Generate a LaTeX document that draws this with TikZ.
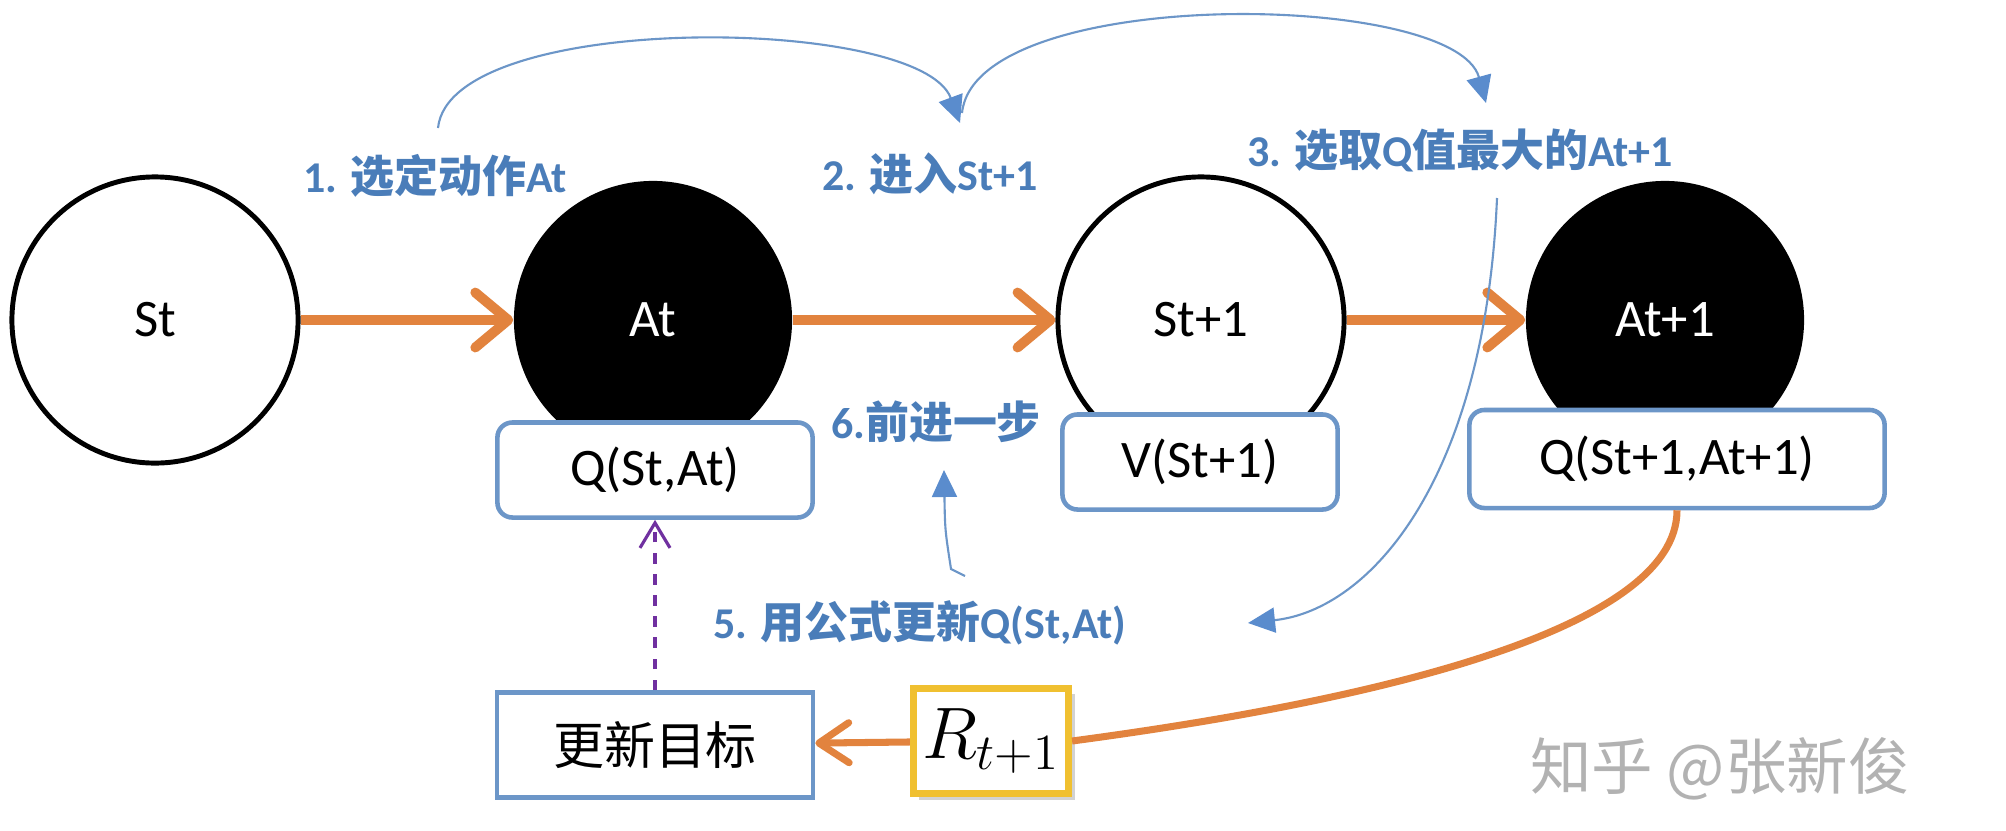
\documentclass[tikz,border=0pt]{standalone}
\usepackage[no-math]{fontspec}
\setmainfont{Carlito}
\newfontfamily\cjk{Noto Sans CJK SC}
\usetikzlibrary{arrows.meta,shadows}
\definecolor{qorange}{RGB}{226,131,62}
\definecolor{qblue}{RGB}{108,150,200}
\definecolor{qlabel}{RGB}{74,125,185}
\definecolor{qarrow}{RGB}{90,140,205}
\definecolor{qpurple}{RGB}{112,48,160}
\definecolor{qyellow}{RGB}{240,192,48}
\begin{document}
\begin{tikzpicture}[x=0.01cm, y=0.01cm,
    state/.style={draw, circle, line width=1.4pt, fill=white, minimum size=2.86cm, font=\fontsize{15}{18}\selectfont},
    action/.style={circle, fill=black, text=white, minimum size=2.78cm, font=\fontsize{15}{18}\selectfont},
    value box/.style={draw=qblue, line width=1.3pt, rounded corners=0.15cm, fill=white, minimum width=#1, minimum height=0.95cm, font=\fontsize{15}{18}\selectfont},
    target box/.style={draw=qblue, line width=1.3pt, fill=white, minimum width=3.16cm, minimum height=1.05cm, font=\fontsize{14.5}{17}\selectfont},
    reward box/.style={draw=qyellow, line width=2pt, fill=white, minimum width=1.55cm, minimum height=1.05cm, inner sep=1pt, font=\fontsize{21}{24}\selectfont,
        drop shadow={shadow xshift=0.06cm, shadow yshift=-0.06cm, opacity=0.35}},
    flow/.style={draw=qorange, line width=2.8pt, -{Straight Barb[length=0.33cm, width=0.55cm, round]}},
    reward flow/.style={draw=qorange, line width=2pt},
    update/.style={draw=qpurple, line width=0.9pt, dashed, -{Straight Barb[length=0.25cm, width=0.3cm]}},
    hint/.style={draw=qblue, line width=0.6pt, -{Triangle[length=0.27cm, width=0.25cm, color=qarrow]}},
    note/.style={text=qlabel, font=\fontsize{12.5}{15}\selectfont\bfseries},
    watermark/.style={text=black!30, font=\fontsize{17.5}{20}\selectfont}
]
\useasboundingbox [fill=white] (0,0) rectangle (2006,-830);

% states and actions
\node [state] (St) at (155,-320) {St};
\node [action] (At) at (653,-320) {At};
\node [state] (St1) at (1201,-320) {St+1};
\node [action] (At1) at (1665,-320) {At+1};

\node [value box=3.15cm] (QSA) at (655,-470) {Q(St,At)};
\node [value box=2.75cm] (VS1) at (1200,-462) {V(St+1)};
\node [value box=4.15cm, minimum height=0.98cm] (QS1A1) at (1677,-459) {Q(St+1,At+1)};

\node [target box] (target) at (655,-745) {\cjk 更新目标};
\node [reward box] (reward) at (991,-741) {$R_{t+1}$};

\draw [flow] (St) -- (At);
\draw [flow] (At) -- (St1);
\draw [flow] (St1) -- (At1);

\draw [reward flow] (QS1A1.south) .. controls +(0,-120) and +(300,40) .. (reward.east);
\draw [reward flow, -{Straight Barb[length=0.3cm, width=0.4cm, round]}] (reward) -- (target);
\draw [update] (target) -- (QSA);

% step labels
\node [note] (l1) at (435,-176) {1. {\cjk 选定动作}At};
\node [note] (l2) at (930,-174) {2. {\cjk 进入}St+1};
\node [note] (l3) at (1460,-150) {3. {\cjk 选取}Q{\cjk 值最大的}At+1};
\node [note] (l6) at (936,-422) {6.{\cjk 前进一步}};
\node [note] (l5) at (920,-623) {5. {\cjk 用公式更新}Q(St,At)};

\coordinate (h1) at (438,-128);
\coordinate (h2) at (960,-123);
\coordinate (h3) at (962,-113);
\coordinate (h4) at (1486,-103);
\coordinate (h5) at (1497,-198);
\coordinate (h6) at (1248,-623);
\coordinate (h7) at (965,-576);
\coordinate (h8) at (944,-470);

\draw [hint] (h1) .. controls (450,-10) and (920,-15) .. (h2);
\draw [hint] (h3) .. controls (975,15) and (1455,10) .. (h4);
\draw [hint] (h5) .. controls (1485,-480) and (1370,-610) .. (h6);
\draw [hint] (h7) -- (951,-569) .. controls (945,-530) .. (h8);

\node [watermark] (wm) at (1720,-769) {\cjk 知乎 @张新俊};
\end{tikzpicture}
\end{document}
